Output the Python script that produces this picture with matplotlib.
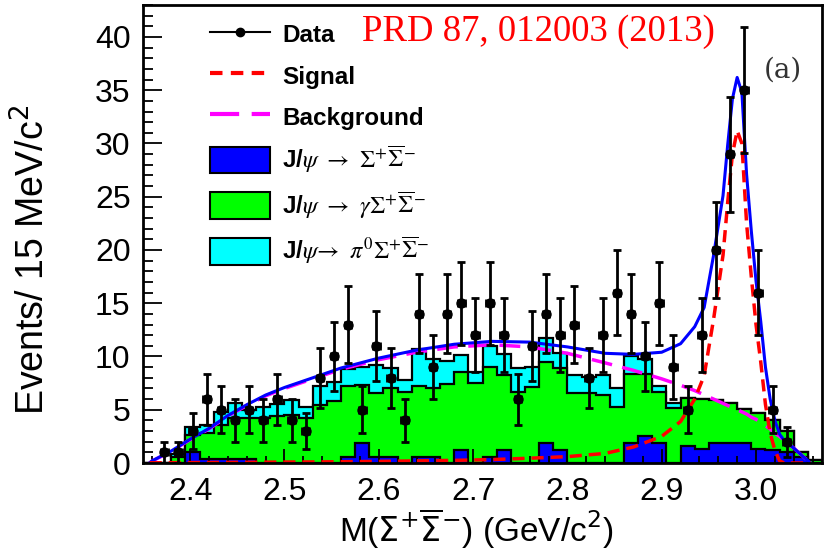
import numpy as np
import matplotlib
matplotlib.use('Agg')
import matplotlib.pyplot as plt
from matplotlib.lines import Line2D
from matplotlib.patches import Patch
from matplotlib.ticker import MultipleLocator

plt.rcParams['font.family'] = ['Liberation Sans', 'DejaVu Sans']

# 15 MeV bins, 2.35 - 3.07 GeV/c2
bin_lo = 2.35
bin_w = 0.015
n_bins = 48

data = [0, 1, 1, 3, 6, 5, 4, 5, 4, 6, 4, 3, 8, 10, 13, 5, 11, 8, 4, 14, 9, 14, 15, 12,
        15, 12, 6, 11, 14, 12, 13, 8, 12, 16, 14, 10, 15, 9, 5, 12, 20, 29, 35, 16, 5, 2, 0, 0]
data_err = [0, 1.0, 1.0, 1.7, 2.4, 2.2, 2.0, 2.2, 2.0, 2.4, 2.0, 1.7, 2.8, 3.2, 3.6, 2.2,
            3.3, 2.8, 2.0, 3.7, 3.0, 3.7, 3.9, 3.5, 3.9, 3.5, 2.4, 3.3, 3.7, 3.5, 3.6, 2.8,
            3.5, 4.0, 3.7, 3.2, 3.9, 3.0, 2.2, 3.5, 4.5, 5.4, 5.9, 4.0, 2.2, 1.4, 0, 0]

# stacked MC backgrounds (per bin)
sig_bkg = [0, 0, 0, 1.0, 0.4, 0.4, 0.4, 0.4, 0, 0, 0, 0, 0, 0, 0.6, 1.9, 0.6, 0.6, 0, 0.6,
           0.6, 0, 1.2, 0, 0.6, 1.2, 0, 0, 1.9, 1.2, 0, 0, 0, 0, 1.9, 2.5, 1.9, 0, 1.6, 1.3,
           1.9, 1.9, 1.9, 1.3, 1.2, 1.0, 0.6, 0]
gam_bkg = [0, 0, 0.6, 1.6, 2.4, 3.2, 3.8, 3.8, 4.2, 4.4, 4.5, 4.2, 5.4, 5.8, 6.6, 5.4, 6.0,
           6.4, 6.7, 6.6, 6.4, 7.4, 7.3, 7.5, 8.4, 7.1, 6.7, 7.1, 7.6, 7.7, 6.6, 6.6, 6.4,
           5.3, 6.5, 5.9, 4.8, 5.2, 4.5, 4.7, 4.0, 3.7, 3.2, 3.4, 2.8, 2.0, 0.4, 0.3]
pi0_bkg = [0, 0, 0.2, 0.8, 0.8, 1.2, 1.4, 0.8, 1.1, 1.1, 1.4, 1.1, 1.8, 1.8, 1.6, 1.7, 2.6,
           1.9, 1.1, 3.5, 2.8, 2.2, 1.6, 1.0, 2.0, 1.9, 2.2, 1.9, 2.2, 1.4, 1.7, 1.5, 1.9,
           1.7, 1.6, 1.4, 0.5, 0.4, 0, 0, 0, 0, 0, 0, 0, 0, 0, 0]

# fit curves
curve_x = [2.357, 2.36, 2.38, 2.40, 2.42, 2.44, 2.46, 2.48, 2.50, 2.53, 2.56, 2.60, 2.64,
           2.68, 2.72, 2.76, 2.80, 2.84, 2.87, 2.90, 2.92, 2.935, 2.945, 2.955, 2.96,
           2.965, 2.97, 2.975, 2.98, 2.985, 2.99, 2.995, 3.00, 3.005, 3.01, 3.015, 3.02,
           3.025, 3.03, 3.04, 3.05, 3.058]
signal_y = [0.02, 0.02, 0.03, 0.04, 0.05, 0.06, 0.07, 0.08, 0.09, 0.1, 0.12, 0.15, 0.2,
            0.25, 0.32, 0.45, 0.6, 0.9, 1.5, 2.5, 3.9, 6.0, 8.2, 13.5, 16.5, 19.5, 24.5,
            29.0, 31.2, 30.0, 22.5, 17.5, 13.0, 9.5, 5.5, 2.8, 1.2, 0.2, 0, 0, 0, 0]
backgr_y = [0, 0.2, 1.1, 2.2, 3.2, 4.4, 5.4, 6.3, 7.0, 7.9, 8.8, 9.7, 10.4, 10.9, 11.1,
            10.9, 10.3, 9.4, 8.7, 7.9, 7.3, 6.8, 6.4, 6.0, 5.8, 5.6, 5.4, 5.2, 5.0, 4.8,
            4.6, 4.3, 4.1, 3.8, 3.5, 3.2, 2.8, 2.5, 2.1, 1.4, 0.6, 0.0]

edges = bin_lo + bin_w * np.arange(n_bins + 1)
centers = edges[:-1] + bin_w / 2
data = np.array(data, dtype=float)
data_err = np.array(data_err)

lay1 = np.array(sig_bkg)
lay2 = lay1 + np.array(gam_bkg)
lay3 = lay2 + np.array(pi0_bkg)
total_y = np.array(signal_y) + np.array(backgr_y)

fig = plt.figure(figsize=(8.3, 5.51), dpi=100)
ax = fig.add_axes([0.1723, 0.1597, 0.8181, 0.8312])

ax.stairs(lay3, edges, fill=True, facecolor='#00ffff', edgecolor='black', lw=1.6)
ax.stairs(lay2, edges, fill=True, facecolor='#00ff00', edgecolor='black', lw=1.6)
ax.stairs(lay1, edges, fill=True, facecolor='#0000ff', edgecolor='black', lw=1.6)

ax.plot(curve_x, backgr_y, color='#ff00ff', lw=2.5, ls=(0, (6, 3)))
ax.plot(curve_x, total_y, color='#0000ff', lw=2.2)
ax.plot(curve_x, signal_y, color='#ff0000', lw=2.5, ls=(0, (3.5, 2)))

m = data > 0
ax.errorbar(centers[m], data[m], yerr=data_err[m], xerr=0.0035, fmt='o', color='black',
            ms=6.5, elinewidth=2, capsize=3, capthick=2)

ax.set_xlim(2.35, 3.07)
ax.set_ylim(0, 43)
ax.xaxis.set_major_locator(MultipleLocator(0.1))
ax.xaxis.set_minor_locator(MultipleLocator(0.02))
ax.yaxis.set_major_locator(MultipleLocator(5))
ax.yaxis.set_minor_locator(MultipleLocator(1))
ax.set_xticks(np.arange(2.4, 3.05, 0.1))
ax.set_xticklabels(['2.4', '2.5', '2.6', '2.7', '2.8', '2.9', '3.0'])
ax.tick_params(axis='both', which='both', direction='in', labelsize=23, width=1.3)
ax.tick_params(axis='y', which='major', length=14, pad=9)
ax.tick_params(axis='y', which='minor', length=7)
ax.tick_params(axis='x', which='major', length=10, pad=10)
ax.tick_params(axis='x', which='minor', length=5)
for s in ax.spines.values():
    s.set_linewidth(2)

ax.set_ylabel('Events/ 15 MeV/c$^{2}$', fontsize=27)
ax.yaxis.set_label_coords(-0.133, 0.443)
ax.set_xlabel(r'M($\Sigma^{+}\overline{\Sigma}^{-}$) (GeV/c$^{2}$)', fontsize=24)
ax.xaxis.set_label_coords(0.49, -0.095)

ax.text(0.3225, 0.941, 'PRD 87, 012003 (2013)', transform=ax.transAxes, color='red',
        family='Liberation Serif', fontsize=26.5, va='center', ha='left')
ax.text(0.9426, 0.858, '(a)', transform=ax.transAxes, color='#333333',
        family='DejaVu Serif', fontsize=20, va='center', ha='center')

handles = [
    Line2D([], [], color='black', lw=1.5, marker='o', ms=6),
    Line2D([], [], color='#ff0000', lw=3, ls=(0, (3, 2))),
    Line2D([], [], color='#ff00ff', lw=3, ls=(0, (7, 3))),
    Patch(facecolor='#0000ff', edgecolor='black', lw=1.5),
    Patch(facecolor='#00ff00', edgecolor='black', lw=1.5),
    Patch(facecolor='#00ffff', edgecolor='black', lw=1.5),
]
labels = ['Data', 'Signal', 'Background',
          r'J/$\psi$ $\rightarrow$ $\Sigma^{+}\overline{\Sigma}^{-}$',
          r'J/$\psi$ $\rightarrow$ $\gamma\Sigma^{+}\overline{\Sigma}^{-}$',
          r'J/$\psi\!\rightarrow$ $\pi^{0}\Sigma^{+}\overline{\Sigma}^{-}$']
ax.legend(handles, labels, loc='upper left', bbox_to_anchor=(0.099, 0.965),
          frameon=False, borderpad=0, borderaxespad=0, handlelength=2.47,
          handleheight=1.3, labelspacing=0.6, handletextpad=0.5,
          prop={'family': 'Liberation Sans', 'weight': 'bold', 'size': 17.5,
                'math_fontfamily': 'stix'})

fig.savefig('out.png', dpi=100)
